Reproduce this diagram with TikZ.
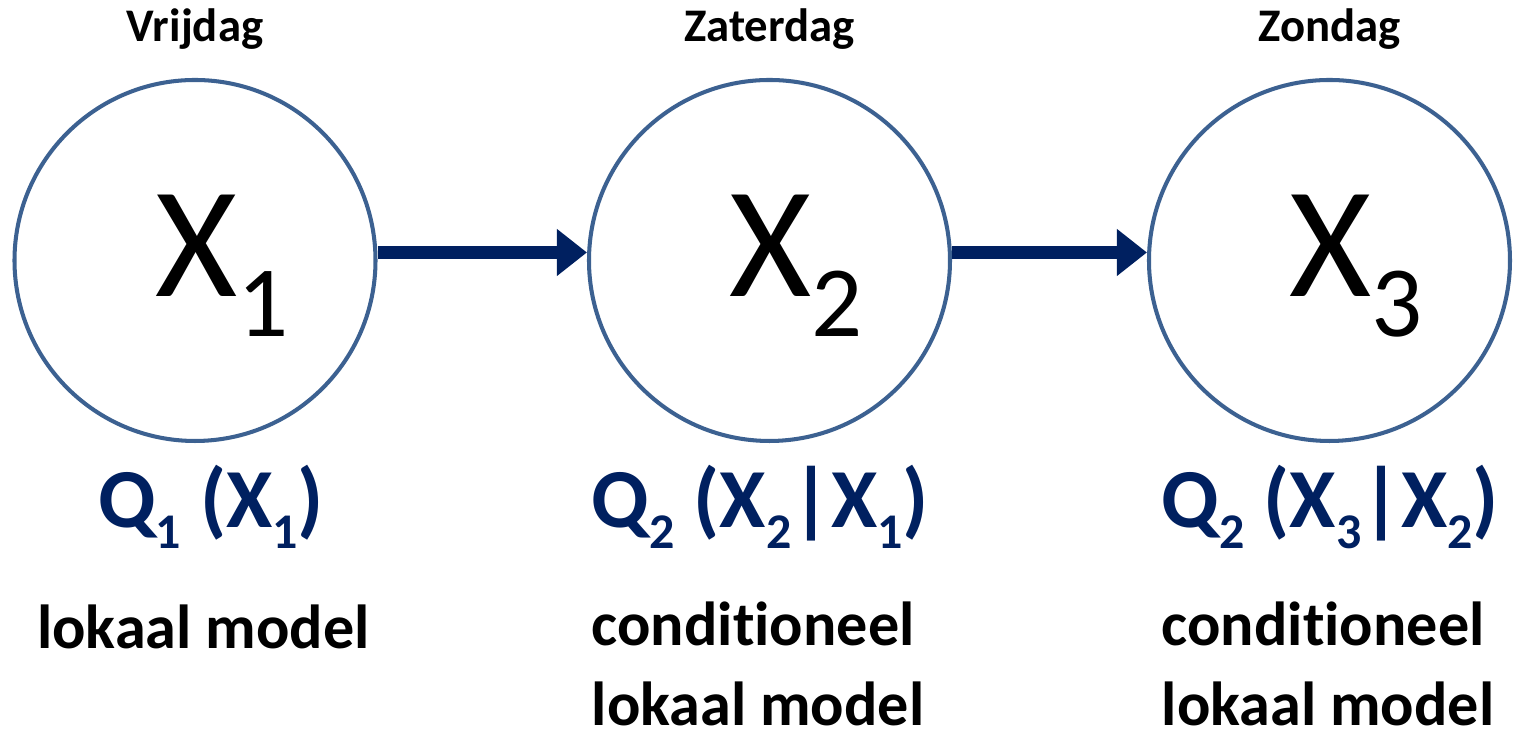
\documentclass[tikz,border=0pt]{standalone}
\usepackage{fontspec}
\setmainfont{Carlito}[Ligatures=NoCommon]
\usepackage{tikz}
\usetikzlibrary{
  arrows.meta,
  positioning,
}
\definecolor{ring}{HTML}{3C6191}
\definecolor{navy}{HTML}{002060}
\newcommand{\xsub}[1]{\raisebox{-0.40cm}{\fontsize{28.7}{30}\selectfont #1}}
\newcommand{\qsub}[1]{\raisebox{-0.21cm}{\fontsize{14.2}{16}\selectfont #1}}
\tikzset{
  state/.style={circle, draw=ring, line width=1.15pt, minimum size=3.61cm, inner sep=0pt},
  day/.style={font=\fontsize{13.3}{16}\selectfont\bfseries, inner sep=0pt, anchor=base},
  var/.style={font=\fontsize{45}{54}\selectfont, inner sep=0pt, anchor=base},
  dist/.style={font=\fontsize{23.9}{28}\selectfont\bfseries, text=navy, inner sep=0pt},
  model/.style={font=\fontsize{17.7}{22.8}\selectfont\bfseries, align=left, inner sep=0pt},
  flow/.style={navy, line width=0.13cm, -{Triangle[length=0.30cm,width=0.45cm]}},
}

\begin{document}
\begin{tikzpicture}[x=1cm,y=1cm]
  \useasboundingbox (0,0) rectangle (15.17,7.31);
  \fill[white] (0,0) rectangle (15.17,7.31);

  % --- chain ---
  \node[state] (x1) at (1.95,4.705) {};
  \node[state] (x2) at (7.695,4.705) {};
  \node[state] (x3) at (13.295,4.705) {};
  \draw[flow] ([yshift=0.08cm]x1.east) -- ([yshift=0.08cm]x2.west);
  \draw[flow] ([yshift=0.08cm]x2.east) -- ([yshift=0.08cm]x3.west);

  \node[day] (d1) at ([yshift=0.36cm]x1.north) {Vrijdag};
  \node[day] (d2) at ([yshift=0.36cm]x2.north) {Zaterdag};
  \node[day] (d3) at ([yshift=0.36cm]x3.north) {Zondag};

  \node[var] (v1) at ([xshift=0.27cm,yshift=-0.365cm]x1.center) {X\xsub{1}};
  \node[var] (v2) at ([xshift=0.27cm,yshift=-0.365cm]x2.center) {X\xsub{2}};
  \node[var] (v3) at ([xshift=0.27cm,yshift=-0.365cm]x3.center) {X\xsub{3}};

  % --- models ---
  \node[dist, anchor=base] (q1) at (2.11,2.03) {Q\qsub{1} (X\qsub{1})};
  \node[dist, anchor=base west] (q2) at (5.91,2.03) {Q\qsub{2} (X\qsub{2}|X\qsub{1})};
  \node[dist, anchor=base west] (q3) at (11.61,2.03) {Q\qsub{2} (X\qsub{3}|X\qsub{2})};

  % base of a two-line node sits on its last line
  \node[model, anchor=base] (m1) at (2.035,0.82) {lokaal model};
  \node[model, anchor=base west] (m2) at (5.91,0.05) {conditioneel\\lokaal model};
  \node[model, anchor=base west] (m3) at (11.61,0.05) {conditioneel\\lokaal model};
\end{tikzpicture}
\end{document}
